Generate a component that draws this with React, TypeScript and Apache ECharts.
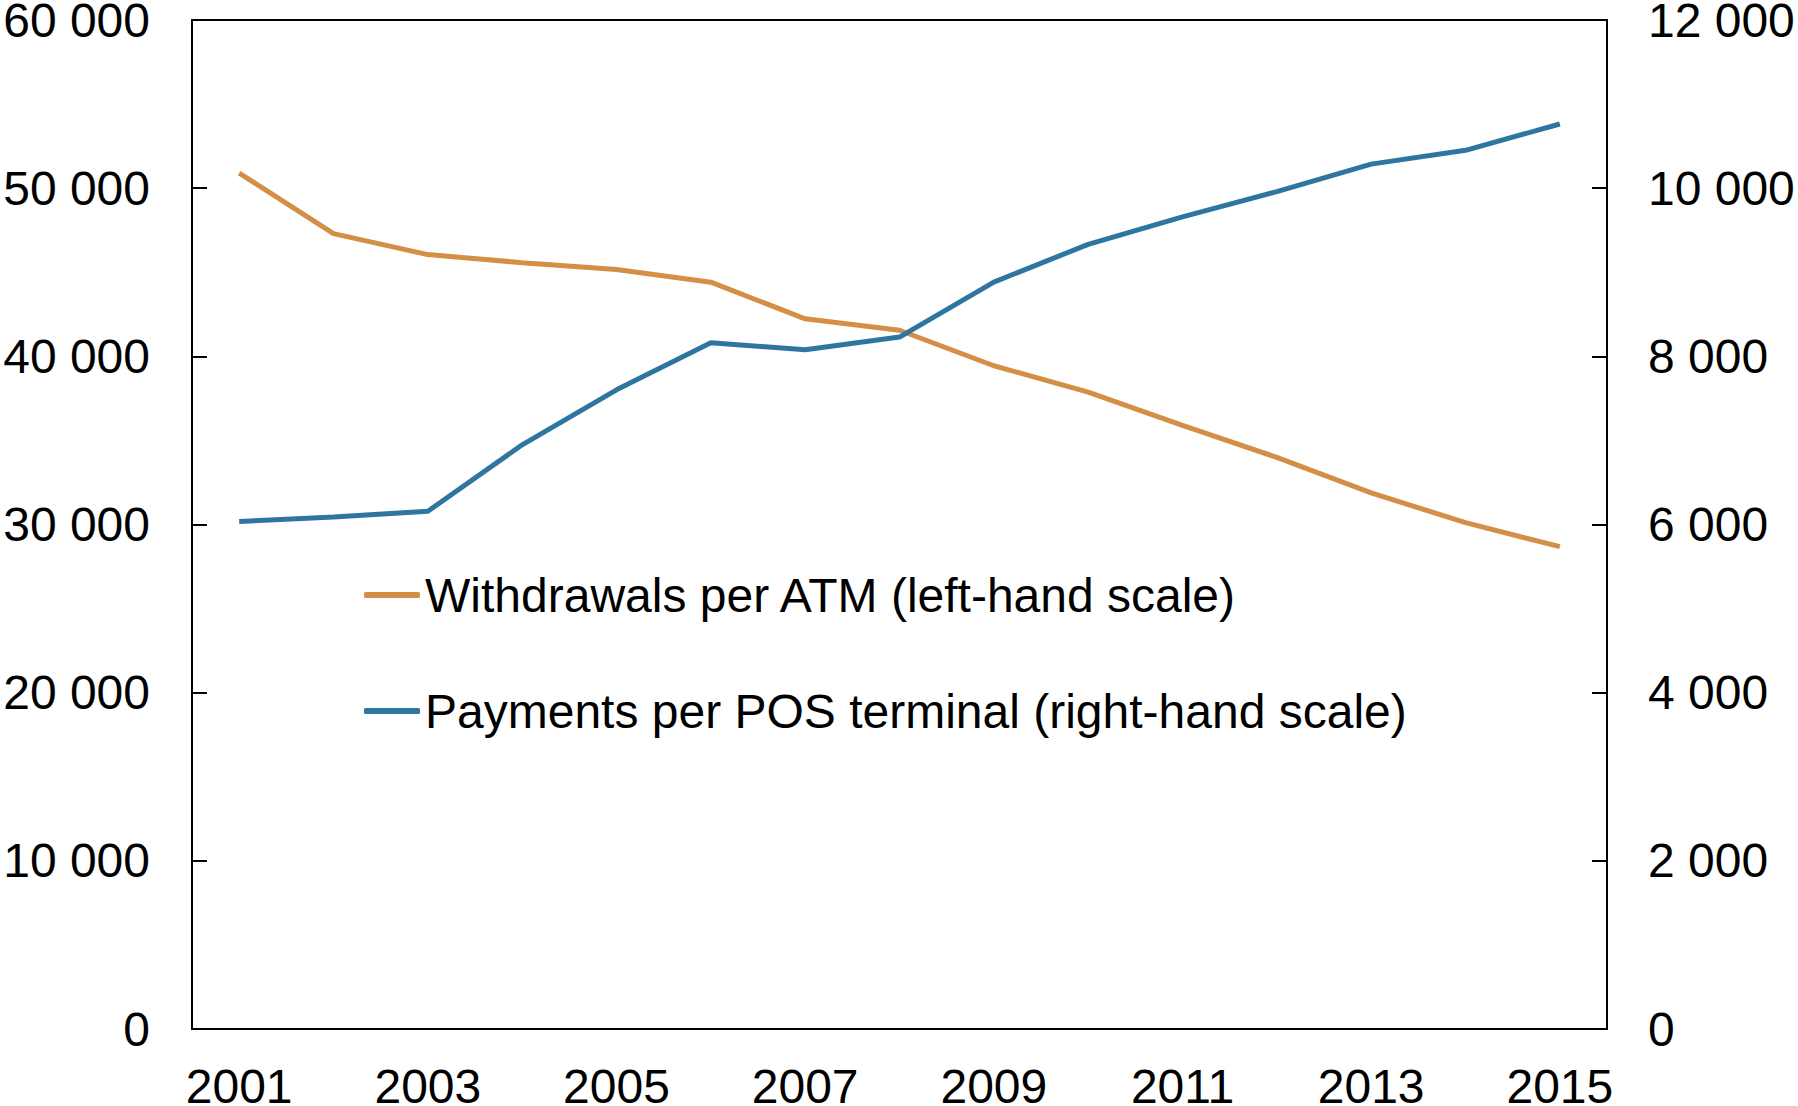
import React, { useEffect, useRef } from "react";
import * as echarts from "echarts";

const years = ["2001","2002","2003","2004","2005","2006","2007","2008","2009","2010","2011","2012","2013","2014","2015"];
const withdrawalsPerATM = [50900, 47300, 46050, 45570, 45160, 44410, 42230, 41550, 39440, 37870, 35900, 33990, 31880, 30110, 28680];
const paymentsPerPOS = [6035, 6090, 6158, 6948, 7602, 8161, 8079, 8229, 8883, 9332, 9659, 9959, 10286, 10450, 10763];
const seriesNames = ["Withdrawals per ATM (left-hand scale)", "Payments per POS terminal (right-hand scale)"];
const colors = ["#D38F45", "#2E76A0"];

const fmt = (v: number) => String(v).replace(/\B(?=(\d{3})+(?!\d))/g, " ");

export default function App() {
  const ref = useRef<HTMLDivElement>(null);
  useEffect(() => {
    document.body.style.margin = "0";
    const chart = echarts.init(ref.current!, null, { renderer: "svg" });
    const font = "Liberation Sans, Arial, sans-serif";
    const fs = 48;
    chart.setOption({
      animation: false,
      textStyle: { fontFamily: font },
      grid: {
        left: 192, right: 191, top: 20, bottom: 77,
        show: true, borderColor: "#000", borderWidth: 2,
        containLabel: false, outerBoundsMode: "none",
      },
      legend: {
        orient: "vertical",
        left: 359,
        top: 566,
        icon: "roundRect",
        itemWidth: 56,
        itemHeight: 6,
        itemGap: 68,
        data: seriesNames,
        textStyle: { fontSize: fs, color: "#000", fontFamily: font, lineHeight: 48 },
      },
      xAxis: {
        type: "category",
        data: years,
        boundaryGap: true,
        axisLine: { lineStyle: { color: "#000", width: 2 } },
        axisTick: { inside: true, length: 15, interval: 0, lineStyle: { color: "#000", width: 2 } },
        axisLabel: { interval: 1, fontSize: fs, color: "#000", margin: 39, lineHeight: 36, fontFamily: font },
        splitLine: { show: false },
      },
      yAxis: [
        {
          type: "value", min: 0, max: 60000, interval: 10000, position: "left",
          axisLine: { show: true, lineStyle: { color: "#000", width: 2 } },
          axisTick: { show: true, inside: true, length: 15, lineStyle: { color: "#000", width: 2 } },
          axisLabel: { fontSize: fs, color: "#000", margin: 42, lineHeight: 36, formatter: fmt, fontFamily: font },
          splitLine: { show: false },
        },
        {
          type: "value", min: 0, max: 12000, interval: 2000, position: "right",
          axisLine: { show: true, lineStyle: { color: "#000", width: 2 } },
          axisTick: { show: true, inside: true, length: 15, lineStyle: { color: "#000", width: 2 } },
          axisLabel: { fontSize: fs, color: "#000", margin: 41, lineHeight: 36, formatter: fmt, fontFamily: font },
          splitLine: { show: false },
        },
      ],
      series: [
        {
          name: seriesNames[0], type: "line", yAxisIndex: 0, data: withdrawalsPerATM,
          symbol: "none", lineStyle: { color: colors[0], width: 5 }, itemStyle: { color: colors[0] },
        },
        {
          name: seriesNames[1], type: "line", yAxisIndex: 1, data: paymentsPerPOS,
          symbol: "none", lineStyle: { color: colors[1], width: 5 }, itemStyle: { color: colors[1] },
        },
      ],
    });
    return () => chart.dispose();
  }, []);
  return <div ref={ref} style={{ width: 1798, height: 1106 }} />;
}
